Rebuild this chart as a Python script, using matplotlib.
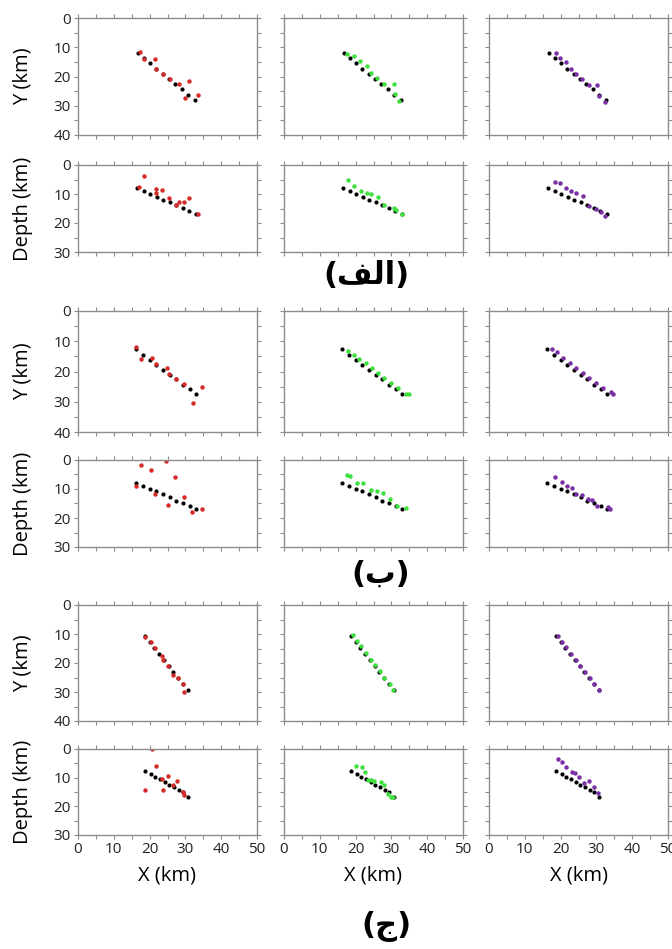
import matplotlib.pyplot as plt
from matplotlib.ticker import MultipleLocator

plt.rcParams['font.family'] = ['Open Sans', 'DejaVu Sans']

# reference fault trace (black), plan view (X, Y) and section (X, depth)
ref_a_plan = [(16.7, 12.1), (18.5, 13.8), (20.2, 15.5), (21.9, 17.3), (23.7, 19.0),
              (25.4, 20.8), (27.1, 22.6), (29.0, 24.3), (30.8, 26.2), (32.6, 27.9)]
ref_a_depth = [(16.6, 7.8), (18.4, 8.9), (20.2, 9.9), (22.0, 10.9), (23.8, 11.9),
               (25.6, 12.9), (27.4, 13.9), (29.2, 14.9), (31.0, 15.9), (32.9, 16.9)]
ref_b_plan = [(16.2, 12.7), (18.1, 14.4), (20.0, 16.1), (21.8, 17.7), (23.7, 19.4),
              (25.6, 21.0), (27.5, 22.6), (29.3, 24.3), (31.2, 25.9), (33.1, 27.6)]
ref_b_depth = [(16.2, 7.8), (18.2, 8.9), (20.1, 9.9), (21.9, 10.8), (23.8, 11.8),
               (25.7, 12.9), (27.5, 14.0), (29.4, 14.9), (31.2, 16.0), (33.1, 17.0)]
ref_c_plan = [(18.7, 10.6), (20.0, 12.7), (21.3, 14.8), (22.6, 16.9), (24.0, 18.9),
              (25.3, 21.0), (26.6, 23.0), (27.9, 25.2), (29.2, 27.3), (30.6, 29.4)]
ref_c_depth = [(18.8, 7.8), (20.3, 8.8), (21.6, 9.6), (22.9, 10.5), (24.2, 11.5),
               (25.5, 12.5), (26.8, 13.3), (28.1, 14.2), (29.4, 15.1), (30.8, 16.7)]

# relocated events, case (a)
red_a_plan = [(17.2, 11.5), (18.5, 13.9), (21.6, 13.9), (21.9, 17.3), (23.7, 19.0),
              (25.6, 20.8), (28.1, 22.4), (29.8, 27.4), (31.1, 21.7), (33.5, 26.2)]
red_a_depth = [(17.0, 7.5), (18.4, 3.8), (21.7, 8.4), (21.7, 9.6), (23.6, 8.7),
               (25.5, 11.5), (27.3, 13.8), (28.1, 12.9), (29.7, 12.9), (31.0, 11.3), (33.5, 17.0)]
green_a_plan = [(17.6, 12.4), (19.6, 13.0), (21.3, 14.6), (23.1, 16.5), (24.3, 18.7),
                (26.1, 20.6), (28.0, 22.4), (30.6, 22.5), (31.1, 26.0), (32.2, 28.3)]
green_a_depth = [(17.8, 5.3), (19.6, 7.1), (21.5, 8.9), (23.1, 9.7), (24.4, 10.1),
                 (26.3, 11.2), (28.0, 13.9), (30.6, 14.7), (31.2, 15.4), (32.9, 17.0)]
purple_a_plan = [(18.6, 12.1), (19.7, 13.7), (21.6, 15.2), (22.8, 17.4), (24.3, 19.1),
                 (26.1, 21.0), (27.9, 22.8), (30.3, 23.0), (30.8, 26.6), (32.3, 28.7)]
purple_a_depth = [(18.5, 5.7), (19.7, 6.1), (21.6, 8.1), (23.0, 8.8), (24.4, 9.5),
                  (26.3, 10.8), (27.9, 14.1), (30.0, 15.0), (31.2, 16.1), (32.4, 17.6)]

# case (b)
red_b_plan = [(16.2, 11.9), (17.5, 15.8), (20.6, 15.5), (21.7, 17.6), (24.9, 18.7),
              (25.5, 20.7), (27.4, 22.4), (29.6, 24.0), (32.1, 30.5), (34.6, 25.1)]
red_b_depth = [(16.3, 9.0), (17.5, 1.8), (20.5, 3.5), (21.6, 11.8), (24.7, 0.2),
               (25.2, 15.5), (27.1, 6.0), (29.6, 12.9), (31.9, 17.9), (34.5, 17.0)]
green_b_plan = [(17.8, 13.3), (19.5, 14.5), (21.0, 15.8), (22.8, 17.2), (24.5, 18.8),
                (26.2, 20.5), (28.0, 22.0), (30.0, 23.8), (31.8, 25.5), (34.0, 27.5), (34.8, 27.3)]
green_b_depth = [(17.5, 5.1), (18.4, 5.5), (20.5, 7.8), (22.1, 7.8), (24.2, 10.2),
                 (26.1, 10.8), (27.6, 11.3), (29.5, 13.4), (31.6, 15.9), (34.2, 16.5)]
purple_b_plan = [(17.5, 12.5), (19.0, 13.6), (20.8, 15.4), (22.6, 17.1), (24.4, 18.7),
                 (26.2, 20.4), (28.0, 22.0), (29.9, 23.8), (31.8, 25.4), (34.0, 26.8), (34.6, 27.4)]
purple_b_depth = [(18.4, 5.8), (20.3, 7.6), (21.9, 8.8), (23.1, 9.5), (24.4, 11.6),
                  (26.1, 12.2), (27.7, 13.6), (28.9, 13.8), (30.3, 15.7), (33.3, 16.3), (33.7, 16.8)]

# case (c)
red_c_plan = [(18.7, 11.2), (20.3, 12.8), (21.4, 14.9), (23.6, 17.6), (23.8, 19.1),
              (25.2, 21.1), (26.5, 24.1), (27.8, 25.3), (29.2, 27.4), (29.7, 30.1)]
red_c_depth = [(20.7, 0.1), (21.7, 5.8), (18.8, 14.4), (23.6, 10.4), (23.8, 14.4),
               (25.2, 9.3), (26.6, 12.7), (27.7, 11.3), (29.2, 15.0), (29.7, 15.9)]
green_c_plan = [(19.3, 10.5), (20.4, 12.4), (21.5, 14.3), (22.8, 16.5), (24.2, 18.8),
                (25.4, 20.7), (26.7, 22.8), (28.0, 25.0), (29.5, 27.2), (30.5, 29.3)]
green_c_depth = [(20.1, 5.8), (21.8, 6.2), (22.7, 7.9), (23.4, 10.8), (24.3, 10.8),
                 (25.2, 11.0), (27.2, 11.6), (28.0, 12.4), (29.1, 15.7), (29.9, 16.6), (30.5, 16.9)]
purple_c_plan = [(19.2, 10.8), (20.4, 12.6), (21.6, 14.6), (22.9, 16.8), (24.2, 18.9),
                 (25.5, 21.0), (26.8, 23.2), (28.1, 25.3), (29.4, 27.4), (30.7, 29.4)]
purple_c_depth = [(19.3, 3.5), (20.3, 4.4), (21.5, 6.2), (23.1, 7.9), (24.1, 8.3),
                  (25.2, 9.9), (26.6, 12.0), (27.9, 11.2), (29.2, 13.1), (30.4, 15.2)]

# panel captions, Arabic letters in their joined forms
case_labels = ['(\ufed2\ufedf\ufe8d)', '(\ufe8f)', '(\ufe9d)']

blocks = [
    (ref_a_plan, ref_a_depth, [red_a_plan, green_a_plan, purple_a_plan],
     [red_a_depth, green_a_depth, purple_a_depth]),
    (ref_b_plan, ref_b_depth, [red_b_plan, green_b_plan, purple_b_plan],
     [red_b_depth, green_b_depth, purple_b_depth]),
    (ref_c_plan, ref_c_depth, [red_c_plan, green_c_plan, purple_c_plan],
     [red_c_depth, green_c_depth, purple_c_depth]),
]
colors = ['#d42a2a', '#3ee03e', '#7b2fa6']

W, H = 672, 949
col_left = [78, 284, 489]
col_w = 179
plan_rows = [(18, 135), (311, 432), (605, 721)]
depth_rows = [(165, 252), (460, 547), (749, 835)]
label_pos = [(366, 276), (381, 574), (386, 926)]

fig = plt.figure(figsize=(W / 100, H / 100), dpi=100)


def make_axes(left, top, bottom):
    return fig.add_axes([left / W, 1 - bottom / H, col_w / W, (bottom - top) / H])


def style(ax, ymax, show_y, show_x):
    ax.set_xlim(0, 50)
    ax.set_ylim(ymax, 0)
    ax.xaxis.set_major_locator(MultipleLocator(10))
    ax.xaxis.set_minor_locator(MultipleLocator(5))
    ax.yaxis.set_major_locator(MultipleLocator(10))
    ax.yaxis.set_minor_locator(MultipleLocator(5))
    for s in ax.spines.values():
        s.set_color('#8c8c8c')
        s.set_linewidth(1.0)
    ax.tick_params(which='both', direction='out', length=3, width=0.8, color='#8c8c8c',
                   top=True, right=True, labelsize=11, labelcolor='#222222', pad=2)
    if not show_y:
        ax.set_yticklabels([])
    if not show_x:
        ax.set_xticklabels([])


for b, (ref_plan, ref_depth, plans, depths) in enumerate(blocks):
    for c in range(3):
        ax = make_axes(col_left[c], *plan_rows[b])
        ax.plot([p[0] for p in ref_plan], [p[1] for p in ref_plan], 'o', ms=3.0, color='black', mec='none')
        pts = plans[c]
        ax.plot([p[0] for p in pts], [p[1] for p in pts], 'o', ms=3.2, color=colors[c], mec='none')
        style(ax, 40, c == 0, False)
        if c == 0:
            ax.set_ylabel('Y (km)', fontsize=14.5, labelpad=15)

        ax = make_axes(col_left[c], *depth_rows[b])
        ax.plot([p[0] for p in ref_depth], [p[1] for p in ref_depth], 'o', ms=3.0, color='black', mec='none')
        pts = depths[c]
        ax.plot([p[0] for p in pts], [p[1] for p in pts], 'o', ms=3.2, color=colors[c], mec='none')
        style(ax, 30, c == 0, b == 2)
        if c == 0:
            ax.set_ylabel('Depth (km)', fontsize=14.5, labelpad=15)
        if b == 2:
            ax.set_xlabel('X (km)', fontsize=14.5, labelpad=6)

    lx, ly = label_pos[b]
    fig.text(lx / W, 1 - ly / H, case_labels[b], family='DejaVu Sans', weight='bold',
             fontsize=22, ha='center', va='center')

fig.savefig('out.png', dpi=100, facecolor='white')
